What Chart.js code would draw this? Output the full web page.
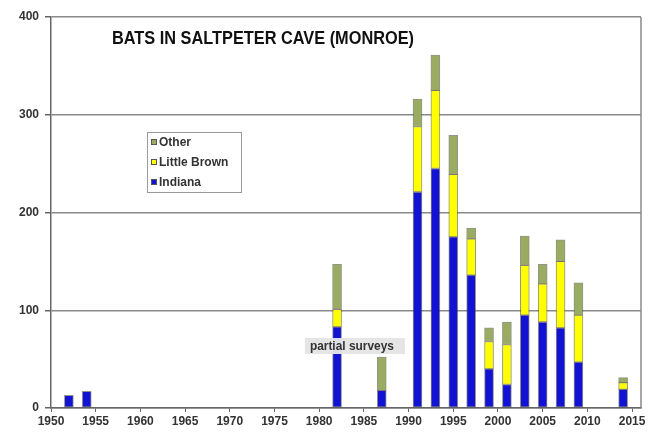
<!DOCTYPE html>
<html><head><meta charset="utf-8">
<script src="https://cdn.jsdelivr.net/npm/chart.js@4/dist/chart.umd.min.js"></script>
<style>html,body{margin:0;padding:0;background:#fff}#wrap{width:662px;height:436px}</style>
</head><body><div id="wrap"><canvas id="c" width="662" height="436"></canvas></div>
<script>
const years = [1952,1954,1982,1987,1991,1993,1995,1997,1999,2001,2003,2005,2007,2009,2014];
const indiana = [13,17,83,18,221,245,175,136,40,24,95,88,82,47,19];
const littleBrown = [0,0,18,0,67,80,64,37,28,41,51,39,68,48,7];
const other = [0,0,46,34,28,36,40,11,14,23,30,20,22,33,5];
const seriesNames = ['Indiana','Little Brown','Other'];
const titleText = 'BATS IN SALTPETER CAVE (MONROE)';
const noteText = 'partial surveys';
const noteAnchor = {x: 1978.4, y: 71.6};

const colors = ['#1212d4', '#ffff00', '#9aab62'];
const FONT = '"Liberation Sans", Arial, sans-serif';

function series(vals){ return years.map((x,i)=>({x, y: vals[i]})); }

const overlay = {
  id: 'overlay',
  afterDatasetsDraw(chart){
    const ctx = chart.ctx, a = chart.chartArea;
    const xs = chart.scales.x, ys = chart.scales.y;
    ctx.save();
    ctx.strokeStyle = '#8a8a8a'; ctx.lineWidth = 1.5;
    ctx.beginPath(); ctx.moveTo(a.right, a.top); ctx.lineTo(a.right, a.bottom); ctx.stroke();
    const nx = xs.getPixelForValue(noteAnchor.x), ny = ys.getPixelForValue(noteAnchor.y);
    ctx.fillStyle = 'rgba(228,228,228,0.97)';
    ctx.fillRect(nx, ny, 100, 16);
    ctx.fillStyle = '#333';
    ctx.font = 'bold 12px ' + FONT;
    ctx.textBaseline = 'middle'; ctx.textAlign = 'left';
    ctx.fillText(noteText, nx + 5, ny + 8.5, 84);
    ctx.fillStyle = '#111';
    ctx.font = 'bold 19px ' + FONT;
    ctx.textAlign = 'center'; ctx.textBaseline = 'alphabetic';
    ctx.fillText(titleText, a.left + 212, a.top + 27, 302);
    const lx = a.left + 96, ly = a.top + 115, lw = 94, lh = 60;
    ctx.fillStyle = '#fff'; ctx.fillRect(lx, ly, lw, lh);
    ctx.strokeStyle = '#999'; ctx.lineWidth = 1;
    ctx.strokeRect(lx + 0.5, ly + 0.5, lw, lh);
    ctx.font = 'bold 12px ' + FONT; ctx.textAlign = 'left'; ctx.textBaseline = 'middle';
    [2,1,0].forEach((di, k) => {
      const cy = ly + 10 + k * 20;
      ctx.fillStyle = colors[di];
      ctx.fillRect(lx + 4, cy - 3, 6, 6);
      ctx.strokeStyle = '#555'; ctx.strokeRect(lx + 4.5, cy - 2.5, 5, 5);
      ctx.fillStyle = '#333';
      ctx.fillText(seriesNames[di], lx + 12, cy + 0.5, 78);
    });
    ctx.restore();
  }
};

new Chart(document.getElementById('c'), {
  type: 'bar',
  data: {
    datasets: [
      {label: seriesNames[0], data: series(indiana), backgroundColor: colors[0]},
      {label: seriesNames[1], data: series(littleBrown), backgroundColor: colors[1]},
      {label: seriesNames[2], data: series(other), backgroundColor: colors[2]}
    ]
  },
  options: {
    responsive: false, animation: false, devicePixelRatio: 1,
    layout: {padding: {left: 0, top: 17, right: 21, bottom: 0}},
    datasets: {bar: {barThickness: 9, borderWidth: 1, borderColor: 'rgba(60,60,40,0.55)', borderSkipped: false}},
    plugins: {legend: {display: false}, tooltip: {enabled: false}},
    scales: {
      x: {
        type: 'linear', min: 1950, max: 2016, stacked: true, offset: false,
        afterBuildTicks: s => { s.ticks = s.ticks.filter(t => t.value % 5 === 0); },
        afterFit: s => { s.height = 28; },
        ticks: {stepSize: 5, includeBounds: false, autoSkip: false, maxRotation: 0, padding: 2, color: '#333',
                font: {family: FONT, size: 12, weight: 'bold'}, callback: v => String(v)},
        grid: {drawOnChartArea: false, offset: false, tickLength: 4, color: '#666', lineWidth: 1},
        border: {color: '#666', width: 1.5}
      },
      y: {
        min: 0, max: 400, stacked: true,
        afterFit: s => { s.width = 51; },
        ticks: {stepSize: 100, padding: 6, color: '#333', font: {family: FONT, size: 12, weight: 'bold'}},
        grid: {color: '#8a8a8a', lineWidth: 1.5, tickLength: 6, tickColor: '#666'},
        border: {color: '#666', width: 1.5}
      }
    }
  },
  plugins: [overlay]
});
</script></body></html>
